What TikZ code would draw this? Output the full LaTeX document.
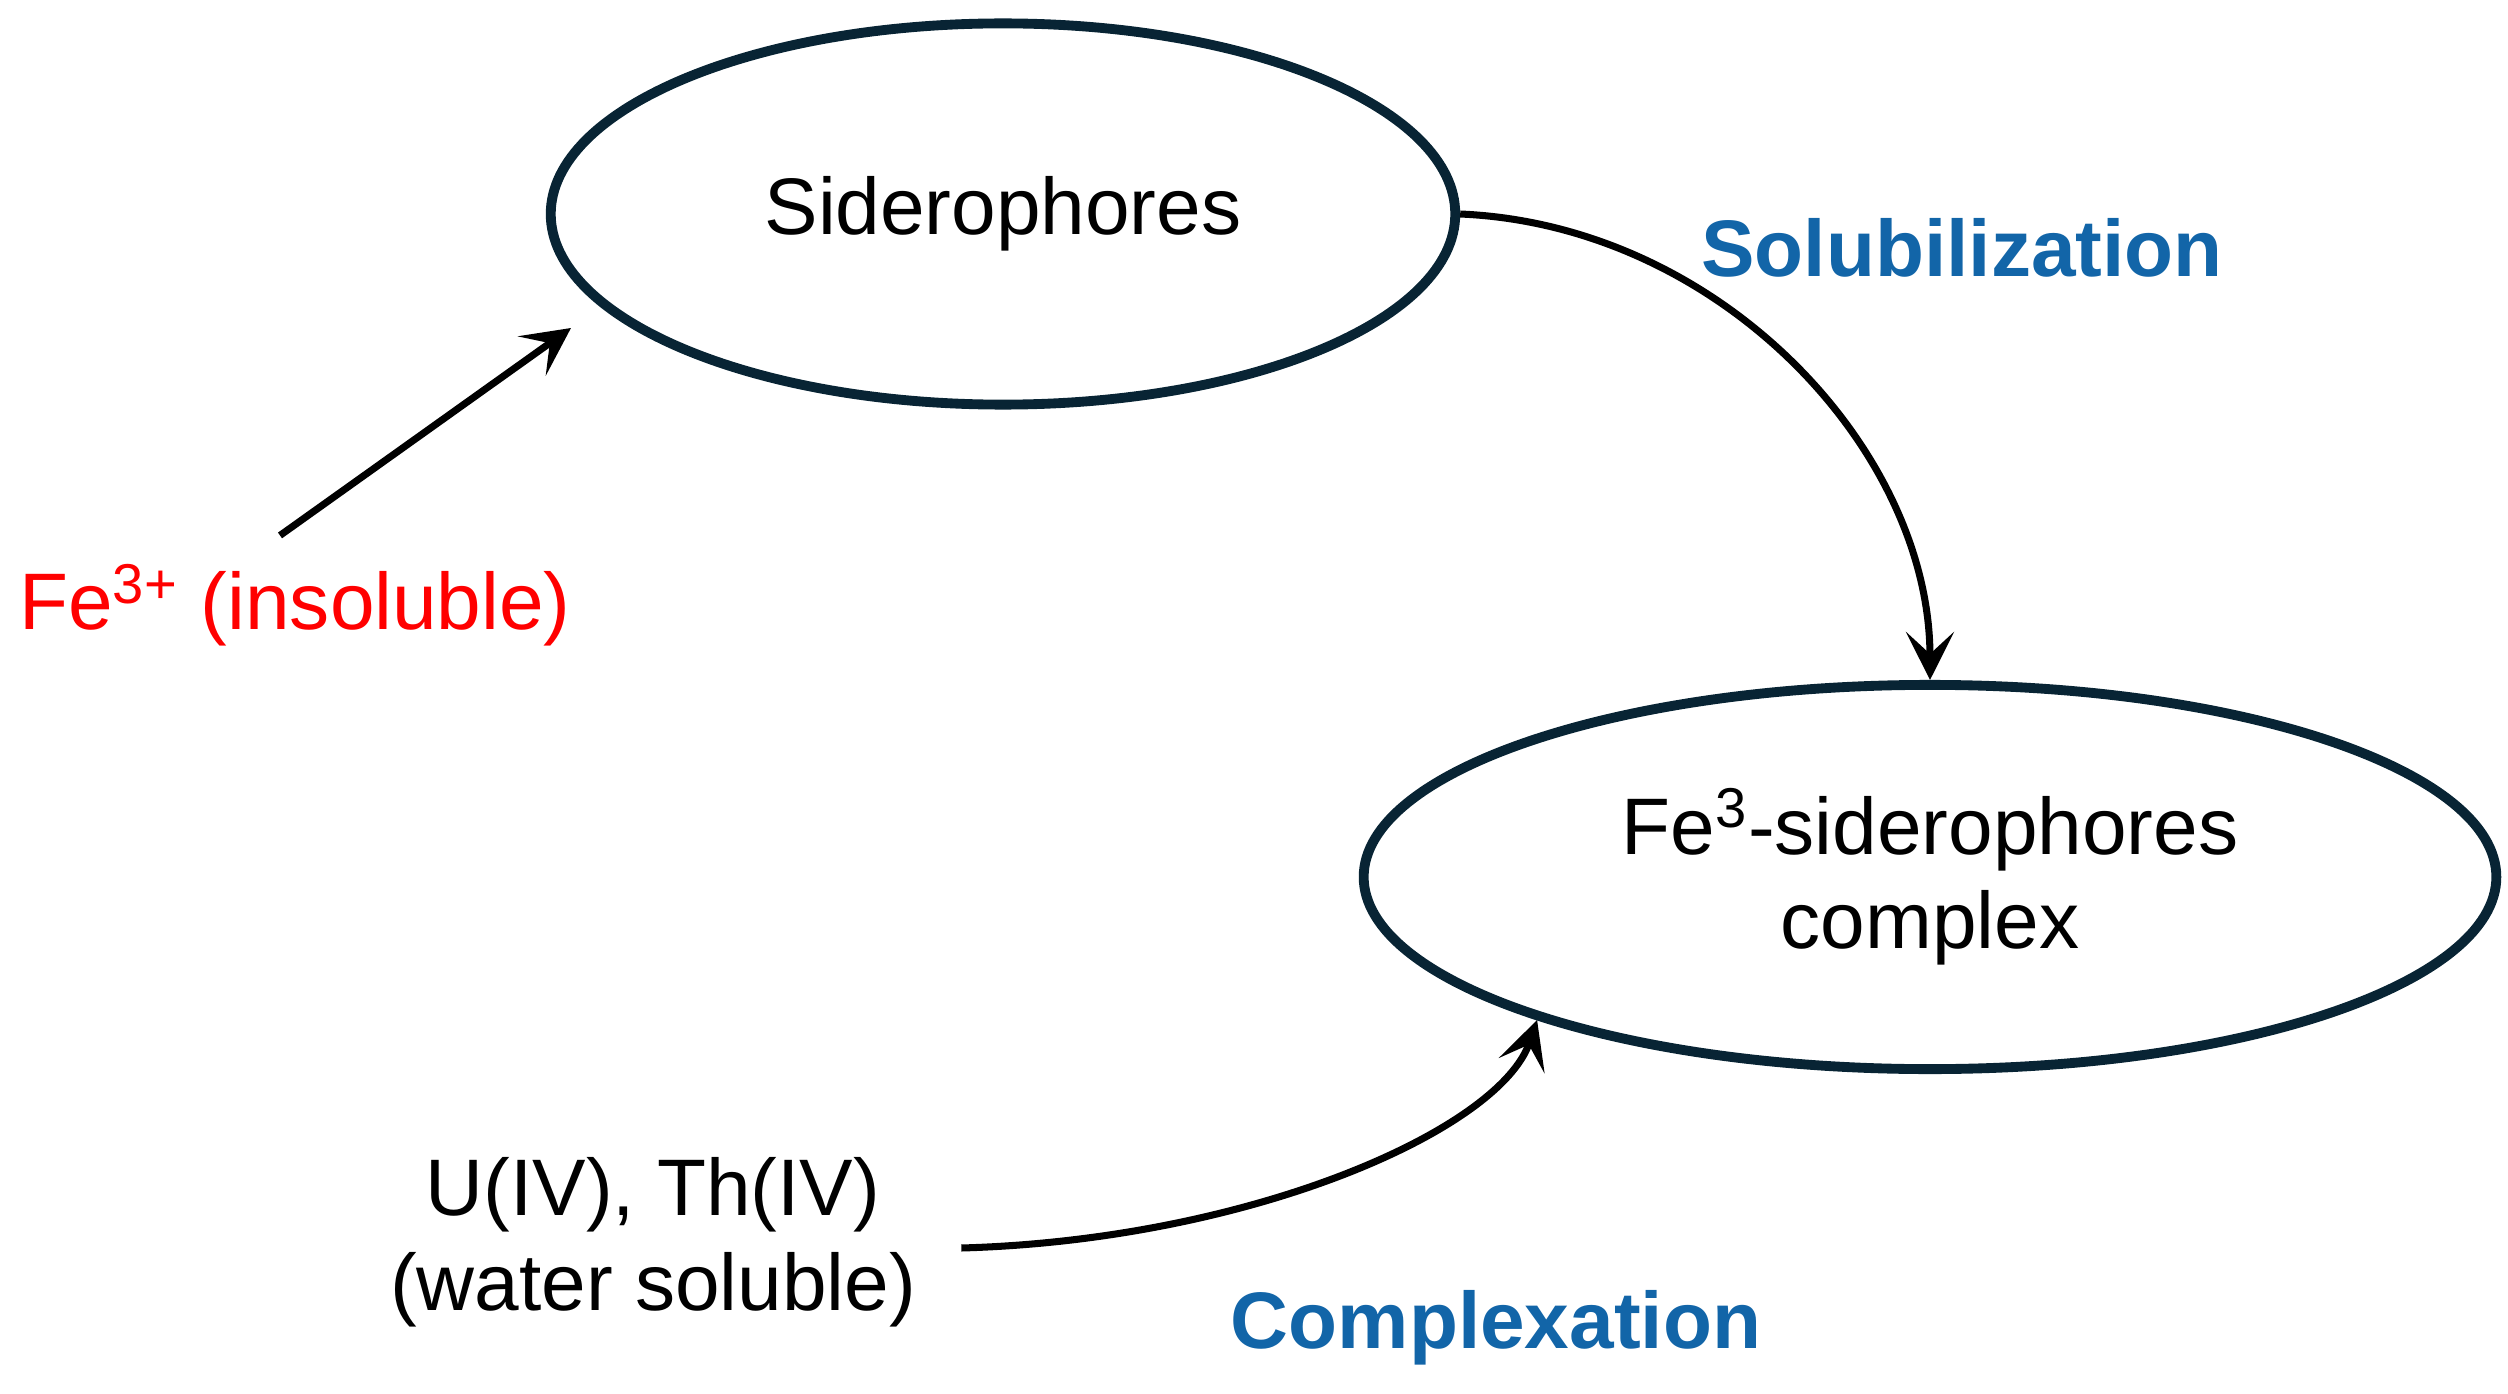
\documentclass[tikz,border=0pt]{standalone}
\usepackage{fontspec}
\setmainfont{Liberation Sans}
\usetikzlibrary{shapes.geometric,arrows.meta}
\definecolor{ringnavy}{RGB}{8,36,52}
\definecolor{labelblue}{RGB}{18,101,168}

\begin{document}
\begin{tikzpicture}[x=0.01cm, y=-0.01cm,
    every node/.style={font=\fontsize{22.8}{27}\selectfont},
    bubble/.style={ellipse, draw=ringnavy, line width=2.8pt, align=center, inner sep=0pt},
    arr/.style={line width=2pt, -{Stealth[length=0.48cm, width=0.48cm, inset=0.22cm]}},
    steplabel/.style={text=labelblue, font=\fontsize{22.8}{27}\selectfont\bfseries}]
    \useasboundingbox (0,0) rectangle (2508,1394);

    % Ellipses
    \node [bubble, minimum width=9.04cm, minimum height=3.81cm] (sid) at (1003,214) {Siderophores};
    \node [bubble, minimum width=11.32cm, minimum height=3.84cm] (cplx) at (1930,877) {Fe\textsuperscript{3}-siderophores\\complex};

    % Metal species
    \node [text=red] (fe) at (295,605) {Fe\textsuperscript{3+} (insoluble)};
    \node [align=center] (uth) at (653,1242) {U(IV), Th(IV)\\(water soluble)};

    % Process labels
    \node [steplabel] (sol) at (1962,248) {Solubilization};
    \node [steplabel] (comp) at (1496,1328) {Complexation};

    % Fe3+ towards siderophores
    \coordinate (fetip) at (571,328);
    \draw[arr] ([shift={(-15,-16)}]fe.north) -- (fetip);

    % Solubilization curve
    \draw[arr] (sid.east) .. controls (1720,225) and (1930,450) .. (cplx.north);

    % Complexation curve
    \draw[arr] ([shift={(33,6)}]uth.east) .. controls (1250,1240) and (1500,1130) .. (cplx.200);
\end{tikzpicture}
\end{document}
